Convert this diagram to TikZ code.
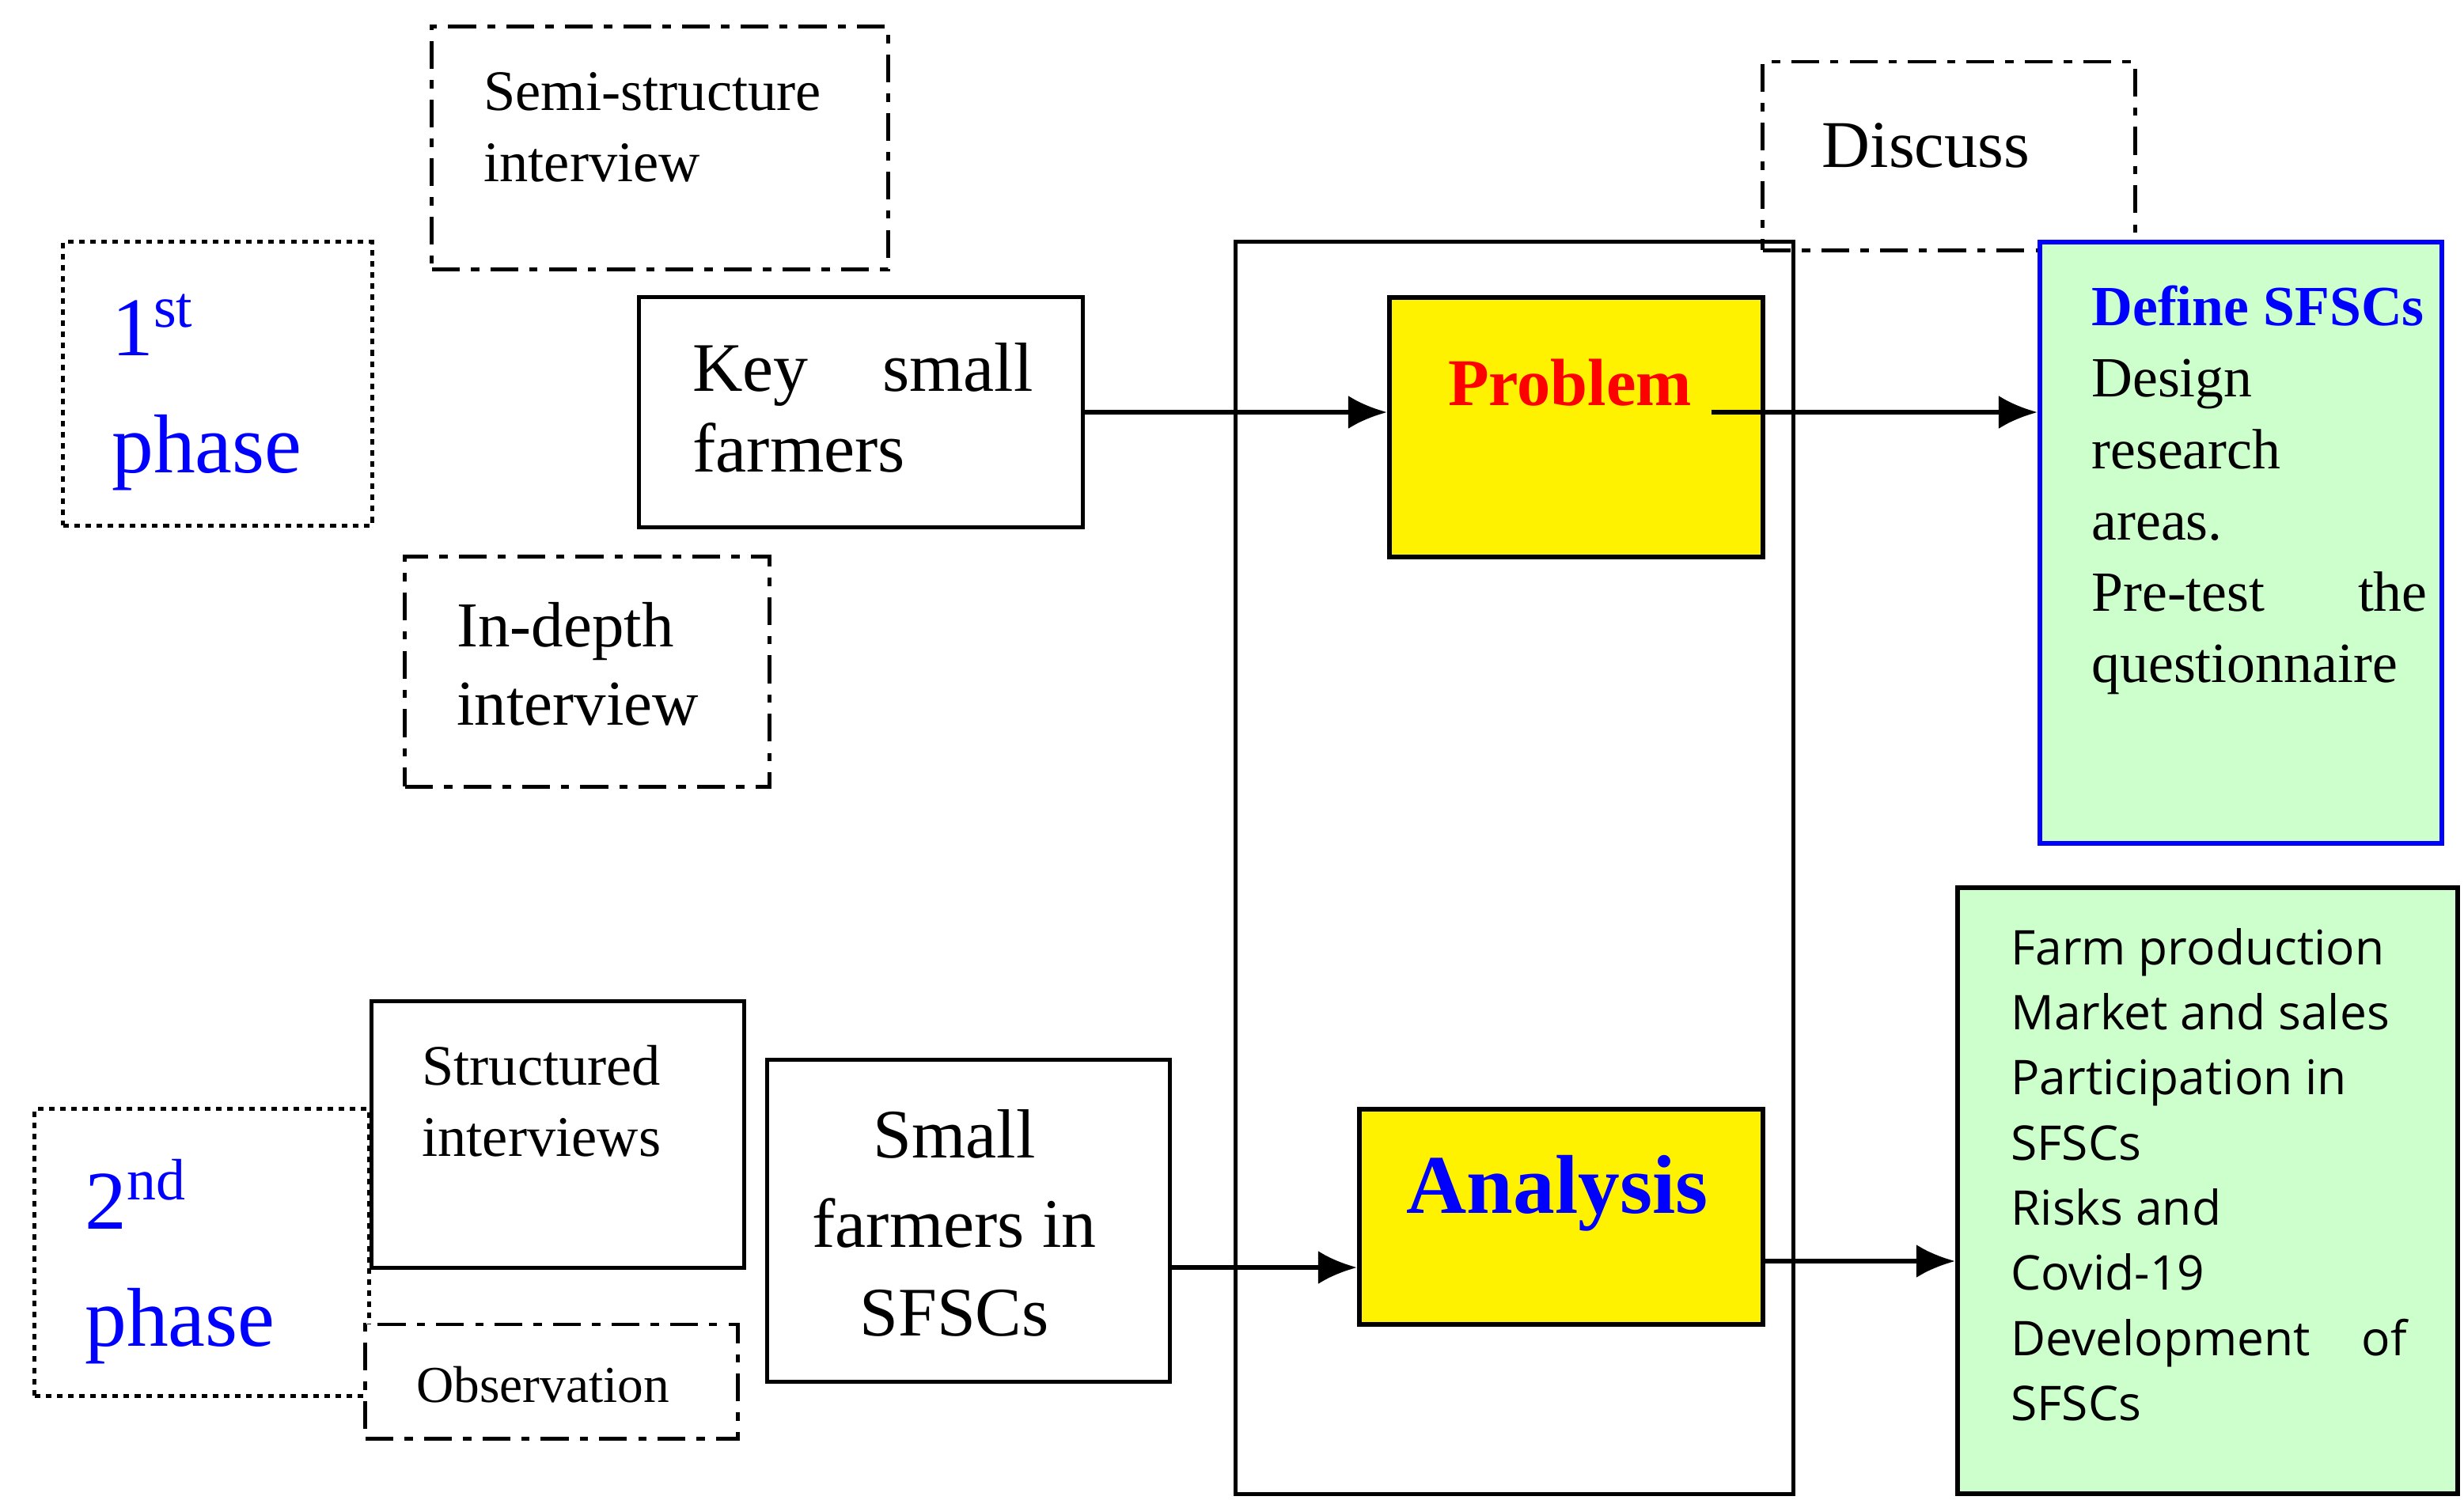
\documentclass[tikz,border=0pt]{standalone}
\usepackage{fontspec}
\setmainfont{Liberation Serif}
\newfontfamily\boxsans{Open Sans}
\usetikzlibrary{arrows.meta}
\definecolor{PaleGreen}{RGB}{204,255,204}
\tikzstyle{Solid}=[rectangle,draw=black,line width=0.7pt,inner sep=0pt]
\tikzstyle{DashDot}=[rectangle,draw=black,line width=0.7pt,inner sep=0pt,dash pattern=on 5pt off 2pt on 1.5pt off 2pt]
\tikzstyle{Dotted}=[rectangle,draw=black,line width=0.7pt,inner sep=0pt,dash pattern=on 1pt off 1pt]
\tikzstyle{Core}=[rectangle,draw=black,fill=yellow,line width=0.8pt,inner sep=0pt]
\tikzstyle{Txt}=[anchor=north west,align=left,inner sep=0pt]
\tikzstyle{ArrowObject}=[black,line width=0.9pt,-{Latex[length=7pt,width=6pt]}]

\begin{document}
\hyphenpenalty=10000
\begin{tikzpicture}[x=0.01cm, y=-0.01cm]
		\useasboundingbox (0,0) rectangle (1557,950);
		
		% Frame
		\node[Solid,minimum width=3.52cm,minimum height=7.91cm] (Frame) at (957,548.5) {};
		
		% 1st phase
		\node[Dotted,minimum width=1.95cm,minimum height=1.79cm] (Phase1) at (137.5,242.5) {};
		\node[Txt,text=blue,font=\fontsize{15}{19}\selectfont] (Phase1Txt) at (70,185) {1\textsuperscript{st}\\[2pt]phase};
		\node[DashDot,minimum width=2.88cm,minimum height=1.53cm] (SemiBox) at (417,93.5) {};
		\node[Txt,font=\fontsize{10.3}{12.8}\selectfont] (SemiTxt) at (305,45) {Semi-structure\\interview};
		\node[Solid,minimum width=2.80cm,minimum height=1.45cm] (KeyBox) at (544,260.5) {};
		\node[Txt,font=\fontsize{12.5}{14.5}\selectfont,text width=2.15cm,align=justify] (KeyTxt) at (437,216) {Key small farmers};
		\node[DashDot,minimum width=2.30cm,minimum height=1.45cm] (DepthBox) at (371,424.5) {};
		\node[Txt,font=\fontsize{11.5}{14}\selectfont] (DepthTxt) at (288,380) {In-depth\\interview};
		\node[DashDot,minimum width=2.35cm,minimum height=1.19cm] (DiscussBox) at (1231.5,98.5) {};
		\node[font=\fontsize{12}{14}\selectfont] (DiscussTxt) at (1217,92) {Discuss};
		\node[Core,minimum width=2.36cm,minimum height=1.64cm] (Problem) at (996,270) {};
		\node[text=red,font=\fontsize{12}{14}\selectfont\bfseries] (ProblemTxt) at (992,242) {Problem};
		\node[rectangle,draw=blue,fill=PaleGreen,line width=0.8pt,minimum width=2.54cm,minimum height=3.80cm] (Define) at (1416,343) {};
		\node[Txt,font=\fontsize{10.2}{12.8}\selectfont,text width=2.12cm,align=justify] (DefineTxt) at (1321,180) {{\color{blue}\bfseries Define~SFSCs}\\Design\\research\\areas.\\Pre-test the questionnaire};
		% 1st phase arrows
		\draw[ArrowObject] (KeyBox.east) -- (Problem.west |- KeyBox.east);
		\draw[ArrowObject] (ProblemTxt.east |- KeyBox.east) -- (Define.west |- KeyBox.east);
		
		% 2nd phase
		\node[Dotted,minimum width=2.11cm,minimum height=1.81cm] (Phase2) at (127.5,791.5) {};
		\node[Txt,text=blue,font=\fontsize{15}{19}\selectfont] (Phase2Txt) at (53,732) {2\textsuperscript{nd}\\[2pt]phase};
		\node[Solid,fill=white,minimum width=2.35cm,minimum height=1.68cm] (StructBox) at (352.5,717) {};
		\node[Txt,font=\fontsize{10.3}{12.8}\selectfont] (StructTxt) at (266,660) {Structured\\interviews};
		\node[DashDot,fill=white,minimum width=2.35cm,minimum height=0.72cm] (ObsBox) at (348.5,873) {};
		\node[font=\fontsize{9.3}{11}\selectfont] (ObsTxt) at (343,875) {Observation};
		\node[Solid,minimum width=2.54cm,minimum height=2.03cm] (SmallBox) at (612,771.5) {};
		\node[align=center,font=\fontsize{12.5}{16}\selectfont] (SmallTxt) at (603,773) {Small\\farmers in\\SFSCs};
		\node[Core,minimum width=2.55cm,minimum height=1.36cm] (Analysis) at (986.5,769) {};
		\node[text=blue,font=\fontsize{15}{18}\selectfont\bfseries] (AnalysisTxt) at (984,754) {Analysis};
		\node[rectangle,draw=black,fill=PaleGreen,line width=0.8pt,minimum width=3.16cm,minimum height=3.83cm] (Result) at (1395,752.5) {};
		\node[Txt,font=\boxsans\fontsize{8.6}{11.7}\selectfont,text width=2.5cm,align=justify] (ResultTxt) at (1270,586) {Farm~production\\Market~and~sales\\Participation~in\\SFSCs\\Risks and\\Covid-19\\Development of SFSCs};
		% 2nd phase arrows
		\draw[ArrowObject] (SmallBox.east |- 0,801) -- (Analysis.west |- 0,801);
		\draw[ArrowObject] (Analysis.east |- 0,797) -- (Result.west |- 0,797);
		
	\end{tikzpicture}
\end{document}
